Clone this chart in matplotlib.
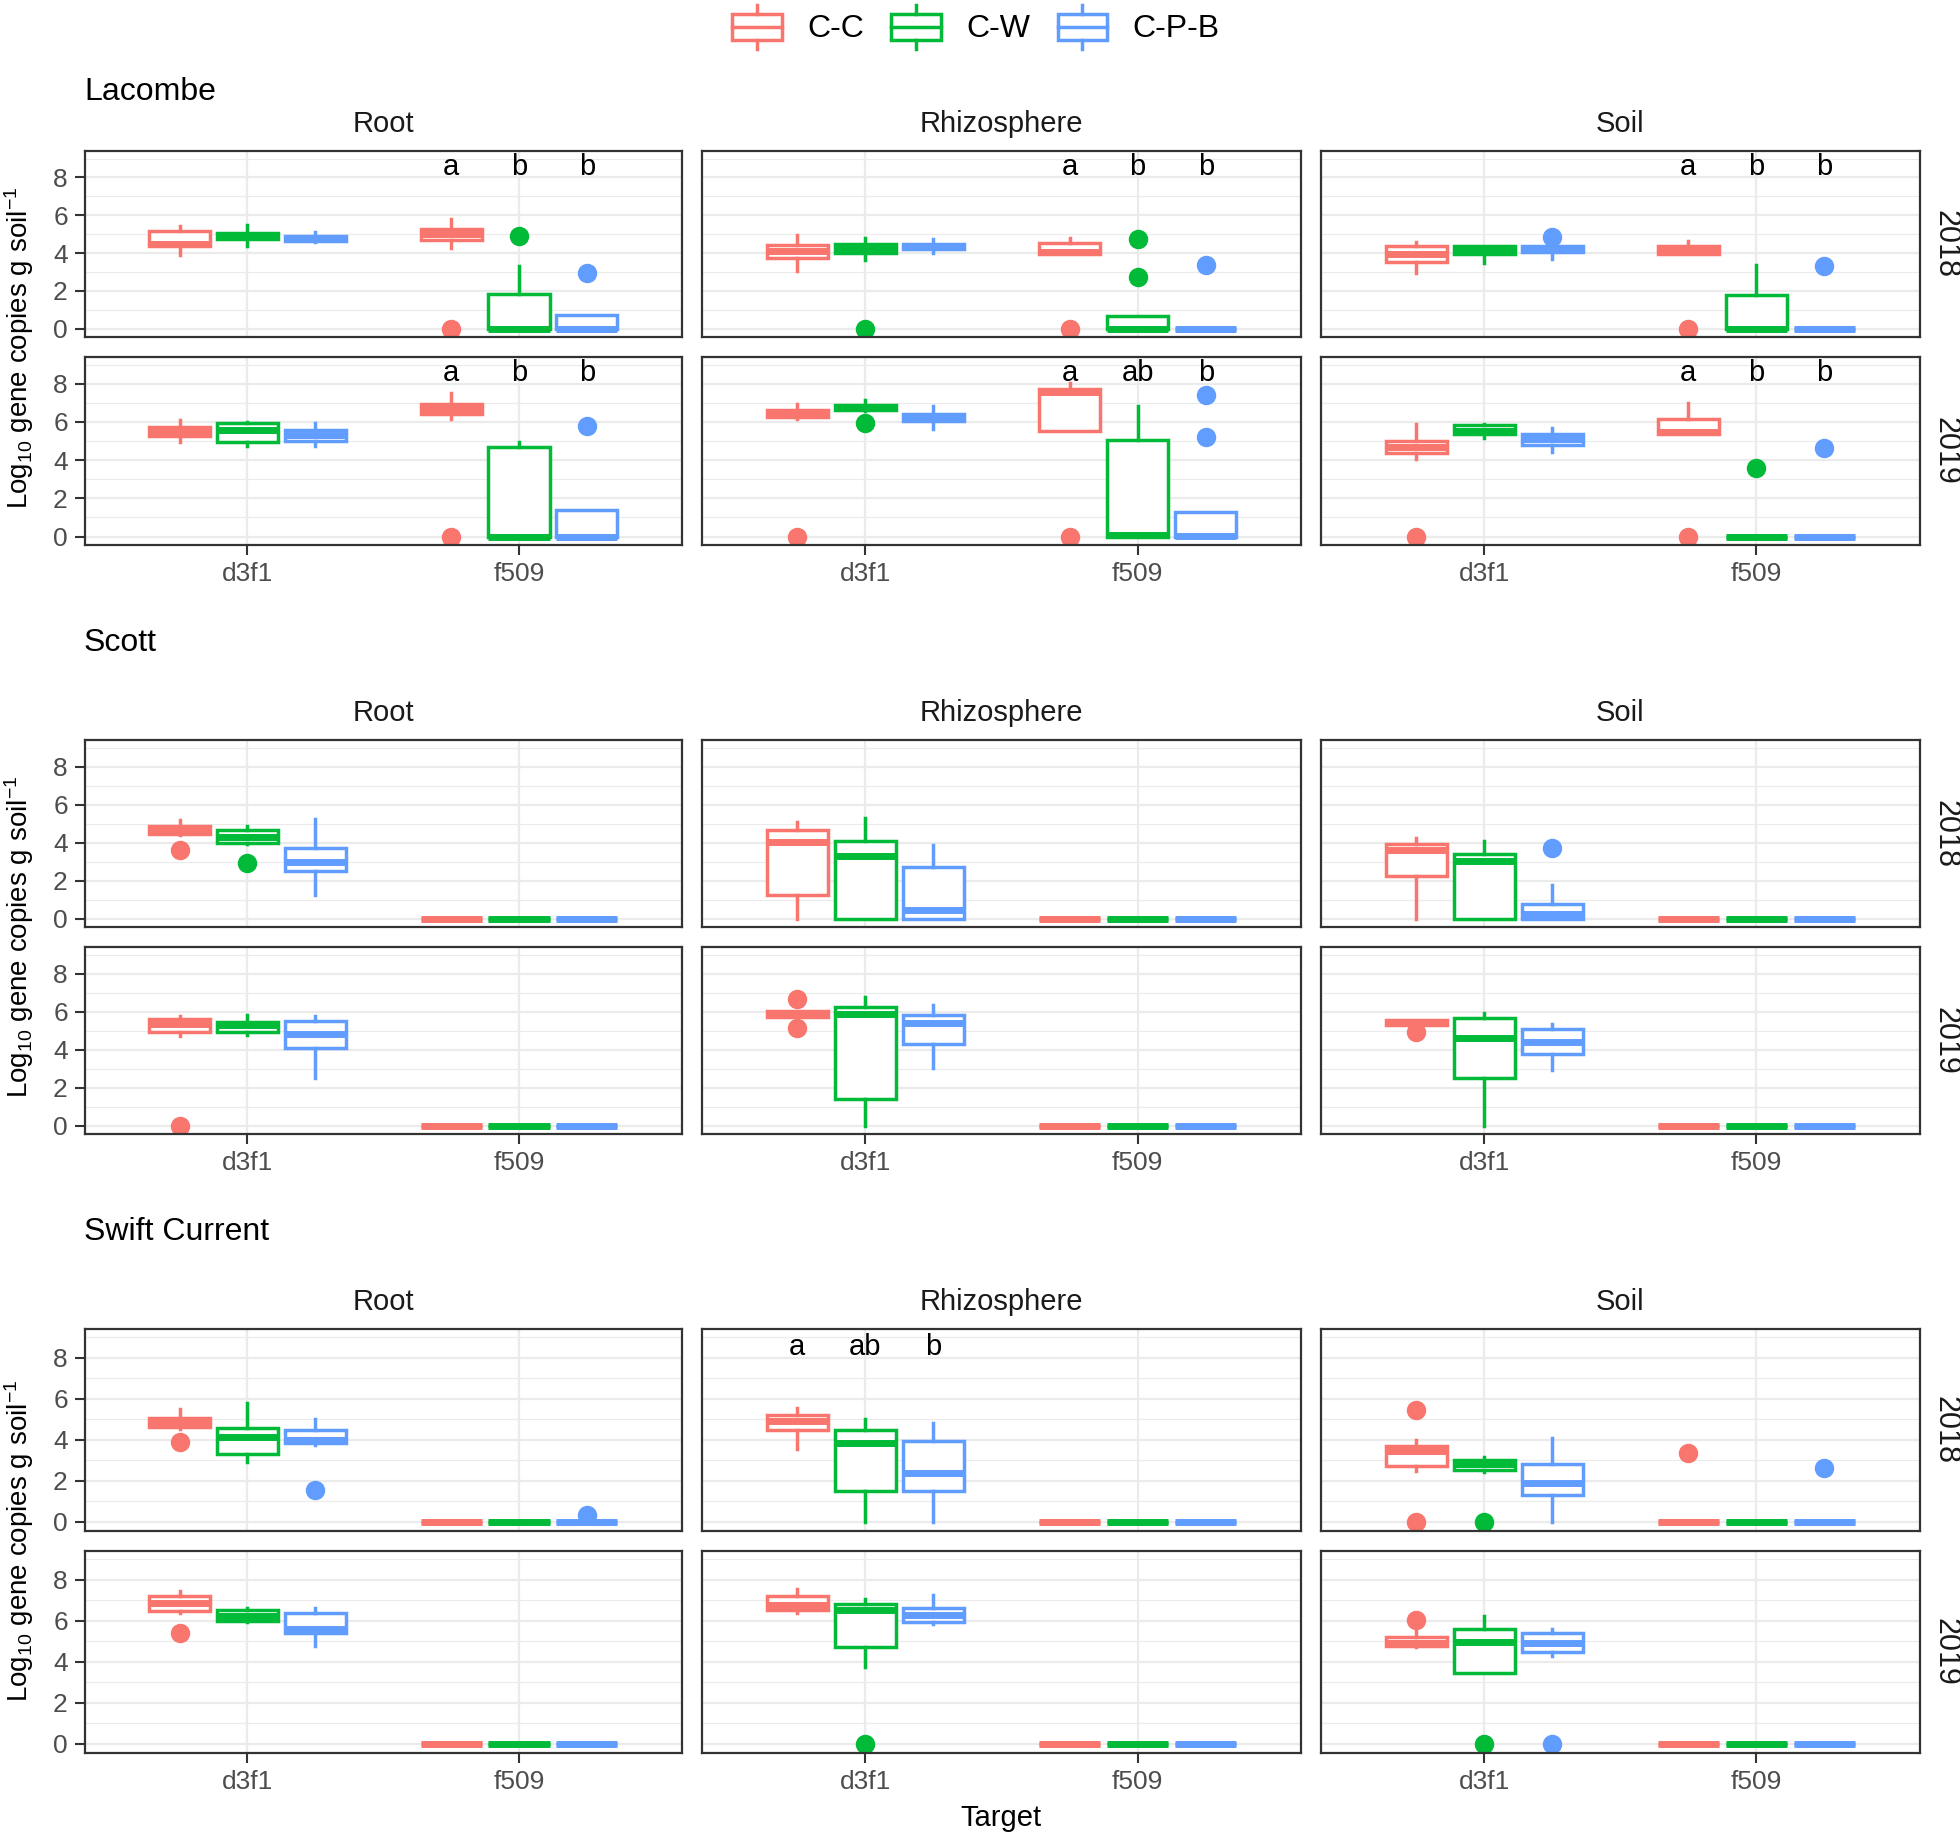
import matplotlib
matplotlib.use('Agg')
import matplotlib.pyplot as plt
from matplotlib.patches import Rectangle, Patch
from matplotlib.lines import Line2D
from matplotlib.legend_handler import HandlerBase

plt.rcParams['font.family'] = ['Liberation Sans', 'DejaVu Sans']
plt.rcParams['mathtext.default'] = 'regular'

W, H = 1960, 1834

treatments = ['C-C', 'C-W', 'C-P-B']
colors = ['#F8766D', '#00BA38', '#619CFF']
targets = ['d3f1', 'f509']
compartments = ['Root', 'Rhizosphere', 'Soil']
years = ['2018', '2019']
locations = ['Lacombe', 'Scott', 'Swift Current']

# box summaries: (whisker low, q1, median, q3, whisker high, outliers)
# order per compartment: d3f1 C-C, C-W, C-P-B, then f509 C-C, C-W, C-P-B
Z = (0, 0, 0, 0, 0, [])

lacombe_2018 = {
    'Root': [(3.9, 4.4, 4.5, 5.15, 5.45, []), (4.38, 4.75, 4.9, 5.05, 5.5, []),
             (4.6, 4.65, 4.75, 4.9, 5.1, []),
             (4.25, 4.7, 5.0, 5.3, 5.78, [0]), (0, 0, 0, 1.85, 3.34, [4.9]),
             (0, 0, 0, 0.7, 0.7, [2.97])],
    'Rhizosphere': [(3.06, 3.75, 4.1, 4.45, 4.95, []), (3.64, 4.0, 4.2, 4.5, 4.78, [0]),
                    (4.02, 4.2, 4.35, 4.5, 4.75, []),
                    (3.95, 3.95, 4.05, 4.55, 4.78, [0]), (0, 0, 0, 0.65, 0.65, [4.73, 2.76]),
                    (0, 0, 0, 0, 0, [3.37])],
    'Soil': [(2.97, 3.55, 3.95, 4.35, 4.6, []), (3.5, 3.95, 4.2, 4.35, 4.4, []),
             (3.69, 4.05, 4.2, 4.35, 4.5, [4.83]),
             (3.95, 3.95, 4.1, 4.4, 4.64, [0]), (0, 0, 0, 1.8, 3.39, []),
             (0, 0, 0, 0, 0, [3.32])],
}
lacombe_2019 = {
    'Root': [(4.97, 5.25, 5.5, 5.75, 6.08, []), (4.75, 4.95, 5.6, 5.95, 6.0, []),
             (4.74, 5.0, 5.3, 5.6, 5.94, []),
             (6.15, 6.4, 6.7, 6.95, 7.49, [0]), (0, 0, 0, 4.7, 4.97, []),
             (0, 0, 0, 1.4, 1.4, [5.8])],
    'Rhizosphere': [(6.15, 6.25, 6.45, 6.6, 6.96, [0]), (6.55, 6.6, 6.75, 6.9, 7.15, [5.94]),
                    (5.62, 6.05, 6.25, 6.4, 6.82, []),
                    (5.55, 5.55, 7.55, 7.7, 8.05, [0]), (0, 0, 0.1, 5.05, 6.85, []),
                    (0, 0, 0.05, 1.3, 1.3, [7.4, 5.23])],
    'Soil': [(4.05, 4.35, 4.7, 5.0, 5.89, [0]), (5.15, 5.35, 5.55, 5.85, 5.9, []),
             (4.44, 4.8, 5.1, 5.35, 5.66, []),
             (5.35, 5.35, 5.5, 6.15, 7.0, [0]), (0, 0, 0, 0, 0, [3.6]),
             (0, 0, 0, 0, 0, [4.65])],
}
scott_2018 = {
    'Root': [(4.4, 4.45, 4.65, 4.85, 5.2, [3.6]), (3.95, 4.0, 4.3, 4.65, 4.9, [2.93]),
             (1.23, 2.5, 3.0, 3.7, 5.22, []), Z, Z, Z],
    'Rhizosphere': [(0, 1.25, 4.05, 4.65, 5.1, []), (0, 0, 3.3, 4.1, 5.32, []),
                    (0, 0, 0.45, 2.7, 3.9, []), Z, Z, Z],
    'Soil': [(0, 2.25, 3.6, 3.95, 4.22, []), (0, 0, 3.05, 3.4, 4.1, []),
             (0, 0, 0.25, 0.75, 1.76, [3.73]), Z, Z, Z],
}
scott_2019 = {
    'Root': [(4.72, 4.95, 5.35, 5.6, 5.77, [0]), (4.75, 4.95, 5.3, 5.45, 5.82, []),
             (2.49, 4.1, 4.8, 5.5, 5.77, []), Z, Z, Z],
    'Rhizosphere': [(5.7, 5.7, 5.9, 6.05, 6.05, [6.68, 5.16]), (0, 1.4, 5.9, 6.25, 6.79, []),
                    (3.02, 4.3, 5.4, 5.8, 6.35, []), Z, Z, Z],
    'Soil': [(5.3, 5.3, 5.45, 5.55, 5.55, [4.95]), (0, 2.5, 4.6, 5.65, 5.95, []),
             (2.93, 3.75, 4.42, 5.1, 5.35, []), Z, Z, Z],
}
swift_2018 = {
    'Root': [(4.52, 4.65, 4.85, 5.05, 5.5, [3.89]), (2.94, 3.3, 4.15, 4.6, 5.8, []),
             (3.75, 3.85, 4.0, 4.5, 5.04, [1.55]), Z, Z, (0, 0, 0, 0, 0, [0.33])],
    'Rhizosphere': [(3.54, 4.5, 4.9, 5.2, 5.55, []), (0, 1.5, 3.85, 4.5, 5.01, []),
                    (0, 1.5, 2.4, 3.95, 4.82, []), Z, Z, Z],
    'Soil': [(2.48, 2.75, 3.45, 3.7, 4.0, [5.44, 0]), (2.42, 2.55, 2.8, 3.0, 3.15, [0]),
             (0, 1.3, 1.9, 2.8, 4.08, []),
             (0, 0, 0, 0, 0, [3.38]), Z, (0, 0, 0, 0, 0, [2.61])],
}
swift_2019 = {
    'Root': [(6.4, 6.5, 6.85, 7.2, 7.46, [5.42]), (5.93, 6.0, 6.25, 6.55, 6.6, []),
             (4.77, 5.4, 5.6, 6.4, 6.6, []), Z, Z, Z],
    'Rhizosphere': [(6.37, 6.55, 6.75, 7.2, 7.54, []), (3.76, 4.7, 6.55, 6.8, 7.05, [0]),
                    (5.83, 5.92, 6.28, 6.6, 7.25, []), Z, Z, Z],
    'Soil': [(4.7, 4.75, 4.9, 5.2, 5.55, [6.04]), (3.45, 3.45, 4.95, 5.6, 6.24, [0]),
             (4.28, 4.5, 4.9, 5.4, 5.59, [0]), Z, Z, Z],
}

data = {
    ('Lacombe', '2018'): lacombe_2018, ('Lacombe', '2019'): lacombe_2019,
    ('Scott', '2018'): scott_2018, ('Scott', '2019'): scott_2019,
    ('Swift Current', '2018'): swift_2018, ('Swift Current', '2019'): swift_2019,
}

# significance letters: (location, year, compartment) -> (target, letters per treatment)
letters = {
    ('Lacombe', '2018', 'Root'): ('f509', ['a', 'b', 'b']),
    ('Lacombe', '2018', 'Rhizosphere'): ('f509', ['a', 'b', 'b']),
    ('Lacombe', '2018', 'Soil'): ('f509', ['a', 'b', 'b']),
    ('Lacombe', '2019', 'Root'): ('f509', ['a', 'b', 'b']),
    ('Lacombe', '2019', 'Rhizosphere'): ('f509', ['a', 'ab', 'b']),
    ('Lacombe', '2019', 'Soil'): ('f509', ['a', 'b', 'b']),
    ('Swift Current', '2018', 'Rhizosphere'): ('d3f1', ['a', 'ab', 'b']),
}

# layout in pixels
col_x = [(84.5, 682), (702, 1301), (1321, 1919.5)]
row_y = {'Lacombe': [(151, 337), (357, 545)],
         'Scott': [(740, 927), (947, 1134)],
         'Swift Current': [(1329, 1531), (1551, 1753)]}
title_base = {'Lacombe': 100, 'Scott': 651, 'Swift Current': 1240}

offsets = [-0.25, 0, 0.25]
grey20 = '#333333'

fig = plt.figure(figsize=(W / 200, H / 200), dpi=200)


def fx(x):
    return x / W


def fy(y):
    return 1 - y / H


for loc in locations:
    for r, yr in enumerate(years):
        top, bot = row_y[loc][r]
        for c, comp in enumerate(compartments):
            left, right = col_x[c]
            ax = fig.add_axes([fx(left), fy(bot), (right - left) / W, (bot - top) / H])
            boxes = data[(loc, yr)][comp]
            for k in range(3):
                stats = []
                pos = []
                for t in range(2):
                    wl, q1, med, q3, wh, out = boxes[t * 3 + k]
                    stats.append(dict(whislo=wl, q1=q1, med=med, q3=q3, whishi=wh, fliers=out))
                    pos.append(t + 1 + offsets[k])
                col = colors[k]
                ax.bxp(stats, positions=pos, widths=0.225, patch_artist=True,
                       showcaps=False, manage_ticks=False,
                       boxprops=dict(facecolor='white', edgecolor=col, linewidth=1.25),
                       whiskerprops=dict(color=col, linewidth=1.25),
                       medianprops=dict(color=col, linewidth=2.5, solid_capstyle='butt'),
                       flierprops=dict(marker='o', markerfacecolor=col, markeredgecolor=col,
                                       markersize=6))
            key = (loc, yr, comp)
            if key in letters:
                tg, labs = letters[key]
                base = targets.index(tg) + 1
                for k, lab in enumerate(labs):
                    ax.text(base + offsets[k], 8.12, lab, ha='center', va='baseline',
                            fontsize=10.5, color='black')
            ax.set_xlim(0.4, 2.6)
            ax.set_ylim(-0.44, 9.4)
            ax.set_yticks([0, 2, 4, 6, 8])
            ax.set_yticks([1, 3, 5, 7, 9], minor=True)
            ax.set_xticks([1, 2])
            ax.set_axisbelow(True)
            ax.grid(True, which='major', color='#EBEBEB', linewidth=0.8)
            ax.grid(True, which='minor', axis='y', color='#EBEBEB', linewidth=0.4)
            ax.tick_params(which='minor', length=0)
            ax.tick_params(which='major', color=grey20, width=0.75, length=3.5,
                           labelcolor='#4D4D4D', labelsize=9.5, pad=2.5)
            for s in ax.spines.values():
                s.set_color(grey20)
                s.set_linewidth(0.8)
            if r == 1:
                ax.set_xticklabels(targets)
            else:
                ax.tick_params(axis='x', length=0, labelbottom=False)
            if c == 0:
                ax.set_yticklabels(['0', '2', '4', '6', '8'])
            else:
                ax.tick_params(axis='y', length=0, labelleft=False)
            if r == 0:
                fig.text(fx((left + right) / 2), fy(top - 19), comp, ha='center',
                         va='baseline', fontsize=10.5, color='#1A1A1A')
            if c == 2:
                fig.text(fx(1945), fy((top + bot) / 2), yr, rotation=-90, ha='center',
                         va='center', fontsize=11, color='#1A1A1A')
    fig.text(fx(84), fy(title_base[loc]), loc, ha='left', va='baseline', fontsize=11.5)
    ymid = (row_y[loc][0][0] + row_y[loc][1][1]) / 2
    fig.text(fx(19), fy(ymid), r'Log$_{10}$ gene copies g soil$^{-1}$', rotation=90,
             ha='center', va='center', fontsize=10)

fig.text(fx(1001), fy(1818), 'Target', ha='center', va='center', fontsize=10.5)


class BoxKey(HandlerBase):
    def create_artists(self, legend, orig_handle, xdescent, ydescent, width, height,
                       fontsize, trans):
        c = orig_handle.get_edgecolor()
        x0 = -xdescent
        y0 = -ydescent
        xm = x0 + width / 2
        box = Rectangle((x0, y0 + 0.2 * height), width, 0.6 * height, facecolor='white',
                        edgecolor=c, linewidth=1.25, transform=trans)
        med = Line2D([x0, x0 + width], [y0 + 0.5 * height] * 2, color=c, linewidth=1.25,
                     transform=trans)
        w1 = Line2D([xm, xm], [y0, y0 + 0.2 * height], color=c, linewidth=1.25, transform=trans)
        w2 = Line2D([xm, xm], [y0 + 0.8 * height, y0 + height], color=c, linewidth=1.25,
                    transform=trans)
        return [box, med, w1, w2]


handles = [Patch(facecolor='white', edgecolor=col) for col in colors]
fig.legend(handles, treatments, handler_map={Patch: BoxKey()}, loc='center',
           bbox_to_anchor=(fx(976), fy(27)), ncol=3, frameon=False, fontsize=11.5,
           handlelength=1.55, handleheight=1.75, handletextpad=0.8, columnspacing=0.85,
           borderpad=0, borderaxespad=0)

fig.savefig('out.png', dpi=200, facecolor='white')
